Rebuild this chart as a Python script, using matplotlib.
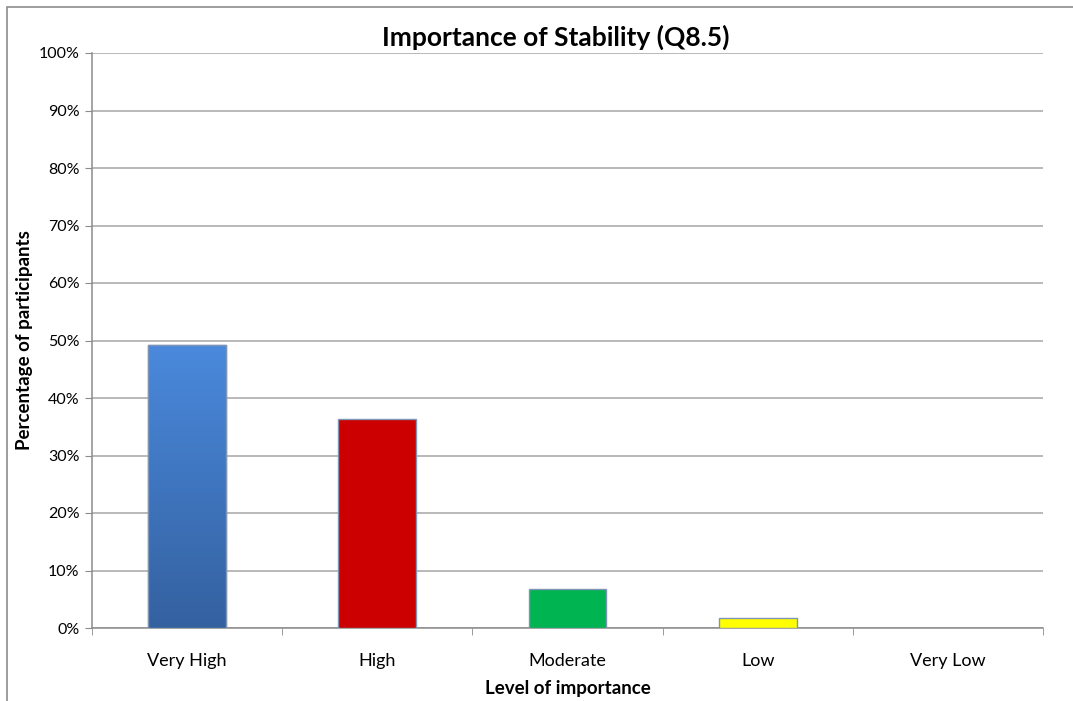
import numpy as np
import matplotlib.pyplot as plt
from matplotlib.patches import Rectangle
from matplotlib.colors import LinearSegmentedColormap
from matplotlib.ticker import PercentFormatter

# survey responses, share of participants per level
levels = ["Very High", "High", "Moderate", "Low", "Very Low"]
shares = [49.2, 36.3, 6.8, 1.8, 0.0]
bar_colors = ["#3F7AC9", "#CC0000", "#00B451", "#FFFF00", "#BBBBBB"]
y_ticks = list(range(0, 101, 10))

plt.rcParams['font.family'] = ['Lato', 'DejaVu Sans']

fig = plt.figure(figsize=(10.73, 7.01), dpi=100)
ax = fig.add_axes([92 / 1073, 1 - 628 / 701, (1043 - 92) / 1073, (628 - 53) / 701])

# outer chart frame
fig.patches.append(Rectangle((7 / 1073, -0.1), 1.2, 1 - 7 / 701 + 0.1,
                             transform=fig.transFigure, fill=False,
                             edgecolor="#8C8C8C", linewidth=1.2))

x = np.arange(len(levels))
edges = ["#7F95B5" if v > 0 else "none" for v in shares]
bars = ax.bar(x, shares, width=0.41, color=bar_colors,
              edgecolor=edges, linewidth=1.0, zorder=3)

# vertical shading on the blue bar
grad = np.linspace(0, 1, 256).reshape(-1, 1)
blue_cmap = LinearSegmentedColormap.from_list("blue", ["#3461A0", "#4A89DC"])
b = bars[0]
im = ax.imshow(grad, cmap=blue_cmap, aspect="auto", origin="lower",
               extent=(b.get_x(), b.get_x() + b.get_width(), 0, b.get_height()),
               zorder=3.5)
im.set_clip_path(b)
ax.add_patch(Rectangle((b.get_x(), 0), b.get_width(), b.get_height(),
                       fill=False, edgecolor="#7F95B5", linewidth=1.0, zorder=4))

ax.set_xlim(-0.5, len(levels) - 0.5)
ax.set_ylim(0, 100)
ax.set_yticks(y_ticks)
ax.yaxis.set_major_formatter(PercentFormatter(decimals=0))
ax.grid(axis="y", color="#A6A6A6", linewidth=1.1, zorder=0)

ax.set_xticks(x)
ax.set_xticklabels(levels, fontsize=13)
ax.set_xticks(np.arange(-0.5, len(levels)), minor=True)
ax.tick_params(axis="x", which="major", length=0, pad=18)
ax.tick_params(axis="x", which="minor", length=5, color="#8C8C8C", direction="out")
ax.tick_params(axis="y", length=5, color="#8C8C8C", labelsize=11.5, pad=4)

for side in ("top", "right"):
    ax.spines[side].set_visible(False)
for side in ("left", "bottom"):
    ax.spines[side].set_color("#8C8C8C")
    ax.spines[side].set_linewidth(1.1)

ax.set_title("Importance of Stability (Q8.5)", fontsize=19, fontweight="bold",
             pad=5, x=0.488)
ax.set_xlabel("Level of importance", fontsize=13.5, fontweight="bold", labelpad=8)
ax.set_ylabel("Percentage of participants", fontsize=13.5, fontweight="bold", labelpad=4)

fig.savefig("out.png", dpi=100)
